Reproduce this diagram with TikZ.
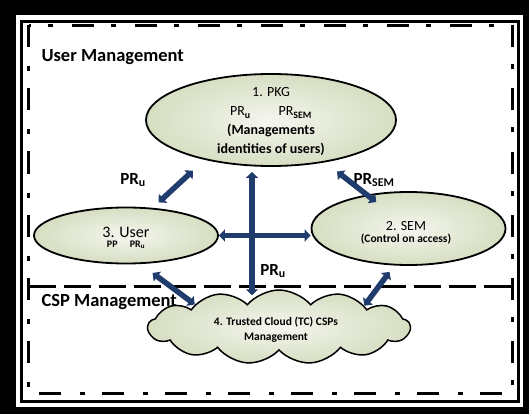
\documentclass[tikz,border=0pt]{standalone}
\usepackage{fontspec}
\setmainfont{Carlito}
\usetikzlibrary{arrows.meta,positioning,shapes.geometric,shapes.symbols}
\definecolor{navy}{HTML}{203C6C}
\definecolor{sage}{HTML}{D6DEC2}
\definecolor{sagelight}{HTML}{F4F6EE}
\tikzset{
    bubble/.style={ellipse,draw=black,line width=1.8pt,inner color=sagelight,outer color=sage},
    puff/.style={cloud,cloud puffs=13,cloud puff arc=100,aspect=3.5,draw=black,line width=1.5pt,inner color=sagelight,outer color=sage},
    link/.style={<->,line width=5.5pt,draw=navy,>={Triangle[length=6pt,width=12pt]}},
    zone/.style={anchor=west,font=\fontsize{18.5}{20}\selectfont\bfseries},
    tag/.style={font=\fontsize{17}{18}\selectfont\bfseries}
}

\begin{document}
\begin{tikzpicture}[x=1pt,y=-1pt]

    \useasboundingbox (0,0) rectangle (529,414);
    \fill[black] (0,0) rectangle (529,414);
    \fill[white] (16,15) rectangle (523,407);
    \draw[line width=3pt] (21,21.5) rectangle (518.5,401.5);
    \draw[line width=3pt,dash pattern=on 22pt off 19pt on 5pt off 17pt] (28.5,25.5) rectangle (512.5,393);
    \draw[line width=3pt,dash pattern=on 27pt off 8pt] (28.5,286) -- (512.5,286);

    \node[zone] (um) at (38,57)  {User Management};
    \node[zone] (cm) at (38,302) {CSP Management};

    \node[bubble,minimum width=250pt,minimum height=92pt] (pkg) at (271,120) {};
    \node[align=center,font=\fontsize{14}{19}\selectfont] (pkg text) at ([yshift=-2pt]pkg) {1. PKG\\PR\textsubscript{\textbf{u}}\qquad PR\textsubscript{\textbf{SEM}}\\\textbf{(Managements}\\\textbf{identities of users)}};

    \node[bubble,minimum width=184pt,minimum height=56pt] (user) at (126,235.5) {};
    \node[align=center] (user text) at (126,238) {{\fontsize{16}{18}\selectfont 3. User}\\[-2pt]{\fontsize{10}{12}\selectfont\bfseries PP\quad\ PR\textsubscript{u}}};

    \node[bubble,minimum width=194pt,minimum height=73pt] (sem) at (408.5,228.5) {};
    \node[align=center] (sem text) at (406,233) {{\fontsize{14}{16}\selectfont 2. SEM}\\[0pt]{\fontsize{11.5}{13}\selectfont\bfseries (Control on access)}};

    \node[puff,minimum width=262pt,minimum height=74pt] (cloud) at (279,327) {};
    \node[align=center,font=\fontsize{11.5}{15}\selectfont\bfseries] (cloud text) at (276,330) {4. Trusted Cloud (TC) CSPs\\Management};

    \node[tag] (pru left) at (133,180) {PR\textsubscript{u}};
    \node[tag] (prsem)    at (374,180) {PR\textsubscript{SEM}};
    \node[tag] (pru mid)  at (273,271) {PR\textsubscript{u}};

    % connectors
    \draw[link,shorten <=16pt,shorten >=8pt] (pkg.211) -- (user.46);
    \draw[link,shorten <=15pt,shorten >=-12pt] (pkg.322) -- (sem.141);
    \draw[link] (user.east) -- (user.east -| sem.west);
    \draw[link] ([xshift=-19pt,yshift=-5pt]pkg.south) -- ([xshift=-27pt,yshift=-6pt]cloud.north);
    \draw[link,shorten <=15pt] (user.297) -- (cloud.165);
    \draw[link,shorten <=8pt] (sem.249) -- (cloud.14);

\end{tikzpicture}
\end{document}
